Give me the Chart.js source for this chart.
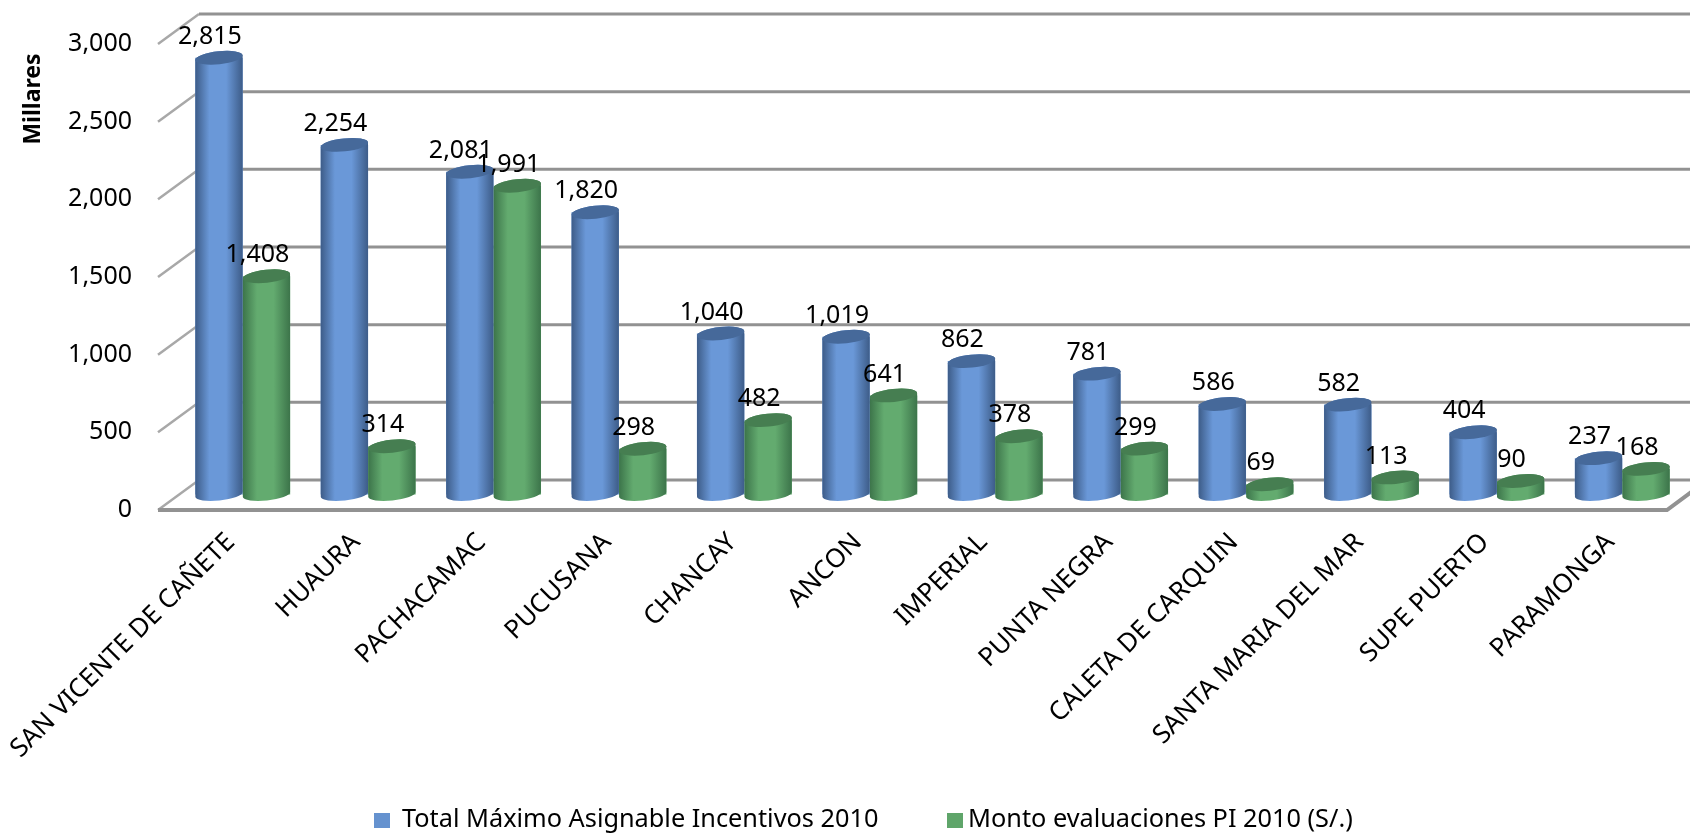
<!DOCTYPE html>
<html>
<head>
<meta charset="utf-8">
<title>Incentivos 2010</title>
<script src="https://cdn.jsdelivr.net/npm/chart.js@4/dist/chart.umd.min.js"></script>
<style>
  body { margin: 0; background: #fff; }
  canvas { display: block; }
</style>
</head>
<body>
<canvas id="chart" width="1690" height="834"></canvas>
<script>
// data
var categories = ['SAN VICENTE DE CAÑETE', 'HUAURA', 'PACHACAMAC', 'PUCUSANA', 'CHANCAY', 'ANCON', 'IMPERIAL', 'PUNTA NEGRA', 'CALETA DE CARQUIN', 'SANTA MARIA DEL MAR', 'SUPE PUERTO', 'PARAMONGA'];
var totalMaximo = [2815, 2254, 2081, 1820, 1040, 1019, 862, 781, 586, 582, 404, 237];
var montoEvaluaciones = [1408, 314, 1991, 298, 482, 641, 378, 299, 69, 113, 90, 168];
var seriesNames = ['Total Máximo Asignable Incentivos 2010', 'Monto evaluaciones PI 2010 (S/.)'];
var seriesColors = ['#6592cf', '#5fa56a'];
var axisTitle = 'Millares';

var FONT = '"Noto Sans"';

function fmt(v) { return v.toLocaleString('en-US'); }

// walls and floor of the fake 3d box
var box3d = {
  id: 'box3d',
  beforeDatasetsDraw: function (chart) {
    var ctx = chart.ctx, y = chart.scales.y;
    ctx.save();
    y.ticks.forEach(function (t) {
      var py = y.getPixelForValue(t.value);
      ctx.strokeStyle = '#a8a8a8';
      ctx.lineWidth = 2.5;
      ctx.beginPath();
      ctx.moveTo(158, py + 15);
      ctx.lineTo(199, py - 15);
      ctx.stroke();
      ctx.strokeStyle = '#929292';
      ctx.lineWidth = 3;
      ctx.beginPath();
      ctx.moveTo(199, py - 15);
      ctx.lineTo(1710, py - 15);
      ctx.stroke();
    });
    // floor front edge
    var p0 = y.getPixelForValue(0);
    ctx.strokeStyle = '#929292';
    ctx.lineWidth = 4;
    ctx.beginPath();
    ctx.moveTo(158, p0 + 15);
    ctx.lineTo(1667, p0 + 15);
    ctx.lineTo(1694, p0 - 5);
    ctx.stroke();
    ctx.restore();

    // axis title
    ctx.save();
    ctx.translate(33, 99);
    ctx.rotate(-Math.PI / 2);
    ctx.font = 'bold 23px ' + FONT;
    ctx.fillStyle = '#000';
    ctx.textAlign = 'center';
    ctx.textBaseline = 'middle';
    ctx.fillText(axisTitle, 0, 0);
    ctx.restore();

    // legend, the two entries are not evenly spaced in the original
    ctx.save();
    ctx.font = '25.3px ' + FONT;
    ctx.textBaseline = 'middle';
    ctx.fillStyle = seriesColors[0];
    ctx.fillRect(374, 813, 16, 15);
    ctx.fillStyle = seriesColors[1];
    ctx.fillRect(947, 813, 16, 15);
    ctx.fillStyle = '#000';
    ctx.fillText(seriesNames[0], 402, 820);
    ctx.fillText(seriesNames[1], 968, 820);
    ctx.restore();
  }
};

// paint the library's bars as cylinders, then the value labels
var cylinders = {
  id: 'cylinders',
  afterDatasetsDraw: function (chart) {
    var ctx = chart.ctx;
    var looks = [
      { dark: '#3d5c88', mid: '#6a98d8', top: '#46699a' },
      { dark: '#3c744a', mid: '#63ab6f', top: '#467e51' }
    ];
    var tilt = -6 * Math.PI / 180;
    chart.data.datasets.forEach(function (ds, i) {
      var look = looks[i];
      chart.getDatasetMeta(i).data.forEach(function (bar) {
        var left = bar.x - bar.width / 2, right = bar.x + bar.width / 2, rx = bar.width / 2;
        var g = ctx.createLinearGradient(left, 0, right, 0);
        g.addColorStop(0, look.dark);
        g.addColorStop(0.3, look.mid);
        g.addColorStop(0.65, look.mid);
        g.addColorStop(1, look.dark);
        ctx.save();
        ctx.fillStyle = g;
        ctx.beginPath();
        ctx.ellipse(bar.x, bar.base, rx, 6, tilt, 0, Math.PI);
        ctx.ellipse(bar.x, bar.y, rx, 6.5, tilt, Math.PI, 2 * Math.PI);
        ctx.closePath();
        ctx.fill();
        ctx.fillStyle = look.top;
        ctx.beginPath();
        ctx.ellipse(bar.x, bar.y, rx, 6.5, tilt, 0, 2 * Math.PI);
        ctx.fill();
        ctx.restore();
      });
    });
    ctx.save();
    ctx.font = '25px ' + FONT;
    ctx.fillStyle = '#000';
    ctx.textAlign = 'center';
    ctx.textBaseline = 'middle';
    chart.data.datasets.forEach(function (ds, i) {
      chart.getDatasetMeta(i).data.forEach(function (bar, j) {
        ctx.fillText(fmt(ds.data[j]), bar.x - 9, bar.y - 21);
      });
    });
    ctx.restore();
  }
};

new Chart(document.getElementById('chart'), {
  type: 'bar',
  data: {
    labels: categories,
    datasets: [
      { label: seriesNames[0], data: totalMaximo, backgroundColor: seriesColors[0], barPercentage: 1, categoryPercentage: 0.757 },
      { label: seriesNames[1], data: montoEvaluaciones, backgroundColor: seriesColors[1], barPercentage: 1, categoryPercentage: 0.757 }
    ]
  },
  plugins: [box3d, cylinders],
  options: {
    responsive: false,
    animation: false,
    events: [],
    layout: { autoPadding: false, padding: { top: 29, right: 5, left: 0, bottom: 0 } },
    plugins: {
      tooltip: { enabled: false },
      legend: { display: false }
    },
    scales: {
      x: {
        // same trick as y: tick padding would push the chart area right
        grid: { drawOnChartArea: false, tickColor: 'transparent', tickLength: 32 },
        border: { display: false },
        afterFit: function (s) { s.height = 339; },
        ticks: {
          autoSkip: false, minRotation: 45, maxRotation: 45, padding: 0, labelOffset: -12,
          color: '#000', font: { family: FONT, size: 26 }
        }
      },
      y: {
        min: 0, max: 3000,
        // tick padding would push the chart area down, so the gap comes from an invisible tick mark
        grid: { drawOnChartArea: false, tickColor: 'transparent', tickLength: 48 },
        border: { display: false },
        afterFit: function (s) { s.width = 180; },
        ticks: {
          stepSize: 500, padding: 0, labelOffset: 15,
          color: '#000', font: { family: FONT, size: 25 },
          callback: function (v) { return fmt(v); }
        }
      }
    }
  }
});
</script>
</body>
</html>
